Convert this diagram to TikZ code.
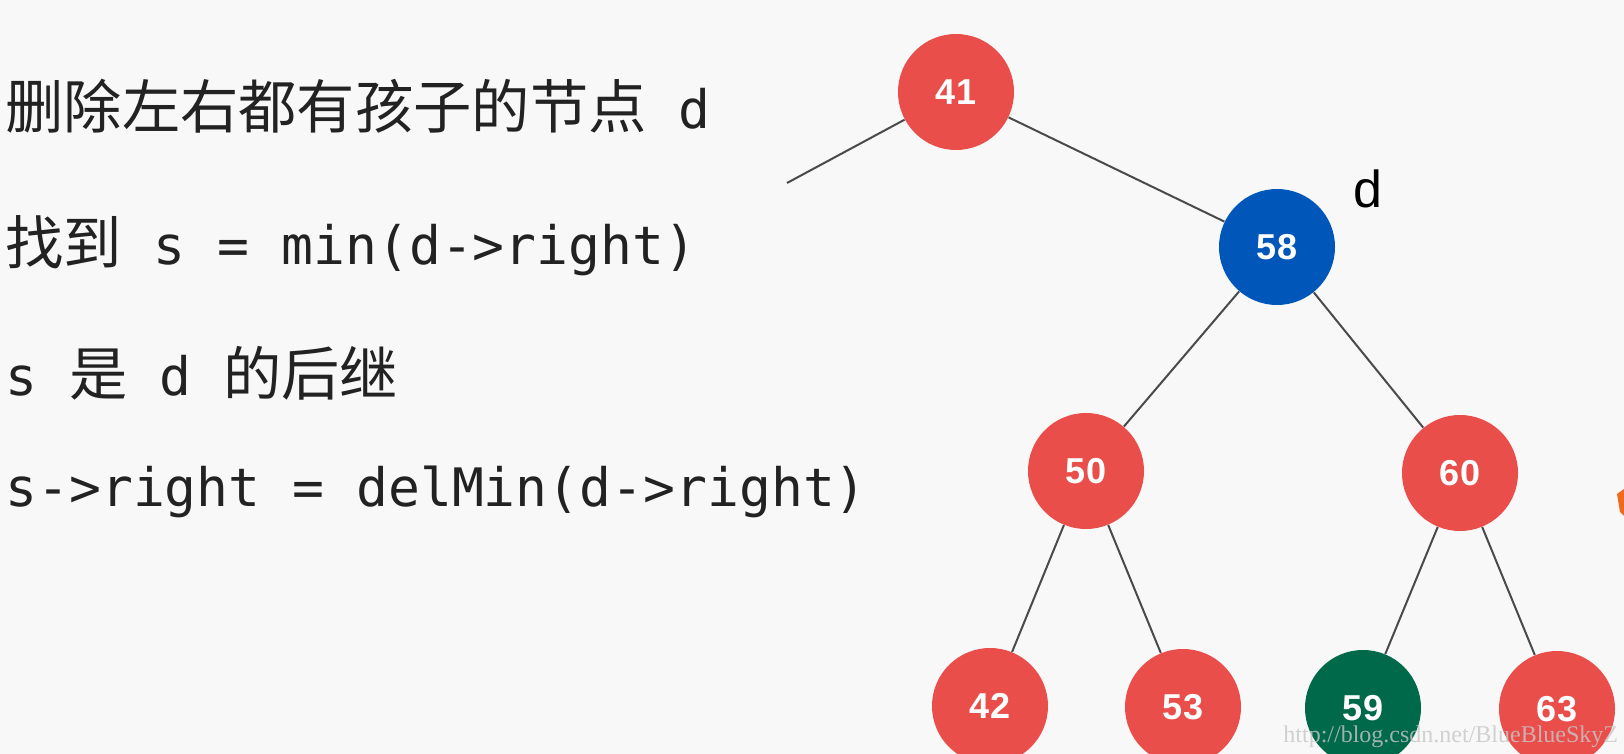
\documentclass[tikz,border=0pt]{standalone}
\usepackage{fontspec}
\setmainfont{Liberation Sans}
\newfontfamily\codefont{DejaVu Sans Mono}
\newfontfamily\cjk[Scale=1.1]{Noto Sans CJK SC}
\newfontfamily\wmfont{Liberation Serif}
\definecolor{rbred}{HTML}{EA4E4B}
\definecolor{delblue}{HTML}{0056B9}
\definecolor{succgreen}{HTML}{00694A}
\definecolor{bgwhite}{HTML}{F8F8F8}
\definecolor{edgegray}{HTML}{4A4A4A}
\definecolor{txtgray}{HTML}{222222}
\definecolor{cutorange}{HTML}{F06A1E}
\begin{document}
\begin{tikzpicture}[x=0.5pt,y=-0.5pt,
	knot/.style={circle,minimum size=58pt,inner sep=0pt,text=white,font=\fontsize{18}{18}\selectfont\bfseries},
	redknot/.style={knot,fill=rbred},
	branch/.style={draw=edgegray,line width=1pt},
	txt/.style={anchor=base west,inner sep=0pt,text=txtgray,font=\codefont\fontsize{26.5}{30}\selectfont}]
		\fill[bgwhite] (0,0) rectangle (1624,754);\useasboundingbox (0,0) rectangle (1624,754);
		% text on the left
		\node[txt] (t1) at (5,129) {{\cjk 删除左右都有孩子的节点} d};
		\node[txt] (t2) at (5,265) {{\cjk 找到} s = min(d->right)};
		\node[txt] (t3) at (5,396) {s {\cjk 是} d {\cjk 的后继}};
		\node[txt] (t4) at (5,507) {s->right = delMin(d->right)};
		% the tree
		\node[redknot] (n41) at (956,92) {41};
		\node[knot,fill=delblue] (n58) at (1277,247) {58};
		\node[redknot] (n50) at (1086,471) {50};\node[redknot] (n60) at (1460,473) {60};
		\node[redknot] (n42) at (990,706) {42};\node[redknot] (n53) at (1183,707) {53};
		\node[knot,fill=succgreen] (n59) at (1363,708) {59};\node[redknot] (n63) at (1557,709) {63};
		\coordinate (up41) at (787,183);
		\draw[branch] (n41)--(up41);\draw[branch] (n41)--(n58);
		\draw[branch] (n58)--(n50);\draw[branch] (n58)--(n60);
		\draw[branch] (n50)--(n42);\draw[branch] (n50)--(n53);\draw[branch] (n60)--(n59);\draw[branch] (n60)--(n63);
		\node[font=\fontsize{26}{26}\selectfont] (lbd) at (1368,189) {d};
		\fill[cutorange] (1617,494)--(1624,489)--(1624,516)--(1620,512)--cycle;
		% watermark lies over the last circles, as in the screenshot
		\node[anchor=base west,inner sep=0pt,text=black!22,opacity=0.8,font=\wmfont\fontsize{12}{12}\selectfont] (wm) at (1283,742) {http://blog.csdn.net/BlueBlueSkyZ};
	\end{tikzpicture}
\end{document}
